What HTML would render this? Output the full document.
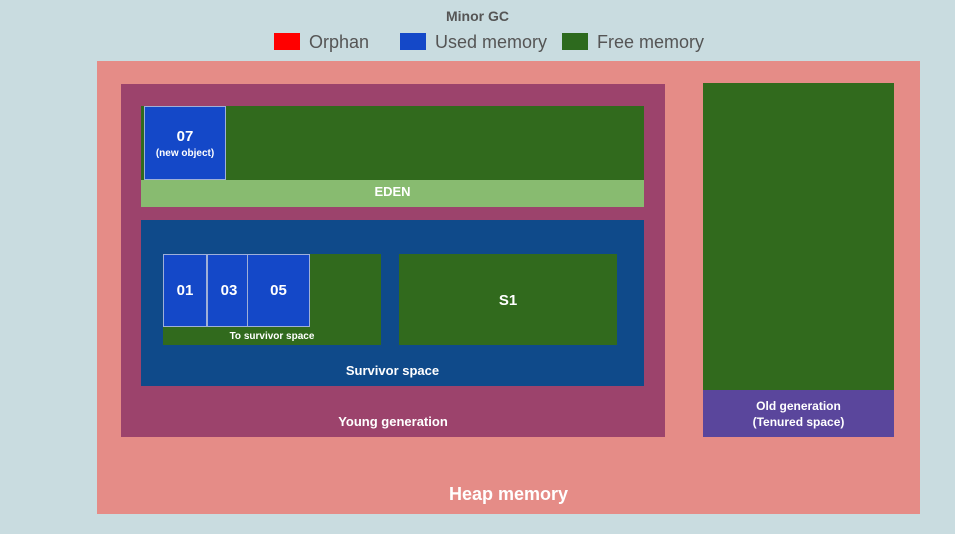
<!DOCTYPE html>
<html><head><meta charset="utf-8"><style>
body{margin:0;width:955px;height:534px;background:#c9dce0;position:relative;overflow:hidden;font-family:"Liberation Sans",Arial,sans-serif;}
div{position:absolute;box-sizing:border-box;}
.t{color:#fff;font-weight:bold;text-align:center;}
.obj{background:#1448c8;border:1px solid #9fb0d8;}
</style></head><body>
<div style="left:0;top:8px;width:955px;text-align:center;font-size:14px;font-weight:bold;color:#555">Minor GC</div>
<div style="left:274px;top:33px;width:26px;height:17px;background:#f00"></div>
<div style="left:309px;top:32px;font-size:18px;color:#555">Orphan</div>
<div style="left:400px;top:33px;width:26px;height:17px;background:#1448c8"></div>
<div style="left:435px;top:32px;font-size:18px;color:#555">Used memory</div>
<div style="left:562px;top:33px;width:26px;height:17px;background:#2d6a1e"></div>
<div style="left:597px;top:32px;font-size:18px;color:#555">Free memory</div>

<div style="left:97px;top:61px;width:823px;height:453px;background:#e58c87"></div>
<div class="t" style="left:97px;top:484px;width:823px;font-size:18px">Heap memory</div>

<div style="left:121px;top:84px;width:544px;height:353px;background:#9c436c"></div>
<div class="t" style="left:121px;top:414px;width:544px;font-size:13px">Young generation</div>

<div style="left:141px;top:106px;width:503px;height:74px;background:#316a1d"></div>
<div class="obj" style="left:144px;top:106px;width:82px;height:74px"></div>
<div class="t" style="left:144px;top:128px;width:82px;font-size:15px">07</div>
<div class="t" style="left:144px;top:148px;width:82px;font-size:10px">(new object)</div>
<div style="left:141px;top:180px;width:503px;height:27px;background:#88bb70"></div>
<div class="t" style="left:141px;top:184px;width:503px;font-size:13px">EDEN</div>

<div style="left:141px;top:220px;width:503px;height:166px;background:#0f4a8a"></div>
<div class="t" style="left:141px;top:363px;width:503px;font-size:13px">Survivor space</div>
<div style="left:163px;top:254px;width:218px;height:91px;background:#316a1d"></div>
<div class="obj" style="left:163px;top:254px;width:44px;height:73px"></div>
<div class="obj" style="left:207px;top:254px;width:41px;height:73px"></div>
<div class="obj" style="left:247px;top:254px;width:63px;height:73px"></div>
<div class="t" style="left:163px;top:282px;width:44px;font-size:15px">01</div>
<div class="t" style="left:208px;top:282px;width:42px;font-size:15px">03</div>
<div class="t" style="left:247px;top:282px;width:63px;font-size:15px">05</div>
<div class="t" style="left:163px;top:331px;width:218px;font-size:10px">To survivor space</div>
<div style="left:399px;top:254px;width:218px;height:91px;background:#316a1d"></div>
<div class="t" style="left:399px;top:292px;width:218px;font-size:15px">S1</div>

<div style="left:703px;top:83px;width:191px;height:307px;background:#316a1d"></div>
<div style="left:703px;top:390px;width:191px;height:47px;background:#5a469c"></div>
<div class="t" style="left:703px;top:398px;width:191px;font-size:12px;line-height:16px">Old generation<br>(Tenured space)</div>
</body></html>
